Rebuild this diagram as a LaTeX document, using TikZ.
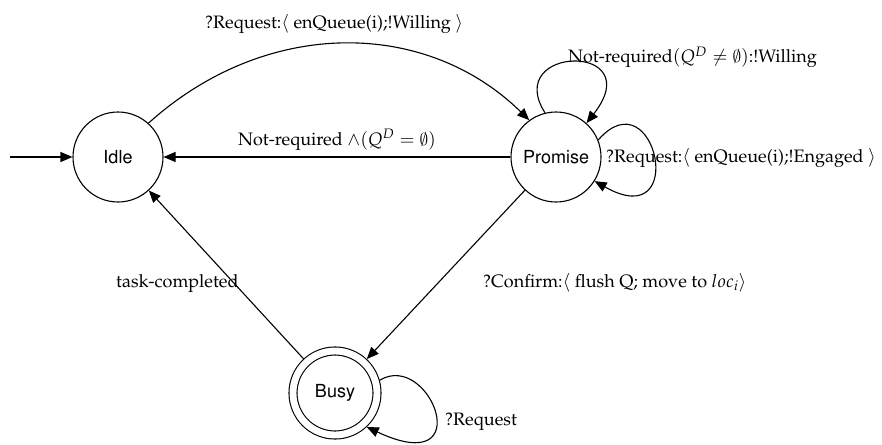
\documentclass[tikz,border=0pt]{standalone}
\usepackage[T1]{fontenc}
\usepackage{mathpazo}
\usepackage{helvet}
\usetikzlibrary{arrows.meta}
% slashed-zero empty set taken from the Computer Modern symbol font
\DeclareSymbolFont{cmsymbols}{OMS}{cmsy}{m}{n}
\DeclareMathSymbol{\cmemptyset}{\mathord}{cmsymbols}{"3B}

\begin{document}
\begin{tikzpicture}[x=1pt,y=-1pt,
  state/.style={circle, draw, line width=1.1pt, minimum size=90pt, inner sep=0pt,
                font=\fontsize{18}{20}\selectfont\sffamily},
  final/.style={state, minimum size=84pt, double, double distance=6.9pt, outer sep=4.5pt},
  trans/.style={line width=1.1pt, -{Triangle[length=12pt,width=10pt]}},
  lab/.style={anchor=base west, inner sep=0pt, font=\fontsize{18}{20}\selectfont\rmfamily}
]
\useasboundingbox (0,0) rectangle (882,444);

% states
\node[state] (idle) at (118,157) {Idle};
\node[state] (promise) at (556,157) {Promise};
\node[final] (busy) at (335,393) {Busy};
\coordinate (start) at (10,157);

% transitions
\draw[trans] (start) -- (idle);
\draw[trans] (idle.48) .. controls (265,18) and (425,18) .. (promise.126);
\draw[trans] (promise) -- (idle);
\draw[trans] (promise.104) .. controls (502,45) and (650,42) .. (promise.48);
\draw[trans] (promise.22) .. controls (655,75) and (690,235) .. (promise.-32);
\draw[trans] (promise) -- (busy);
\draw[trans] (busy) -- (idle);
\draw[trans] (busy.16) .. controls (430,350) and (480,480) .. (busy.-47);

% transition labels
\node[lab] (l1) at (205,29) {?Request:$\langle$ enQueue(i);!Willing $\rangle$};
\node[lab] (l2) at (238,145) {Not-required $\wedge(Q^D = \cmemptyset)$};
\node[lab] (l3) at (568,63) {Not-required$(Q^D \neq \cmemptyset)$:!Willing};
\node[lab] (l4) at (606,162) {?Request:$\langle$ enQueue(i);!Engaged $\rangle$};
\node[lab] (l5) at (483,287) {?Confirm:$\langle$ flush Q; move to $loc_i\rangle$};
\node[lab] (l6) at (116,287) {task-completed};
\node[lab] (l7) at (445,425) {?Request};
\end{tikzpicture}
\end{document}
